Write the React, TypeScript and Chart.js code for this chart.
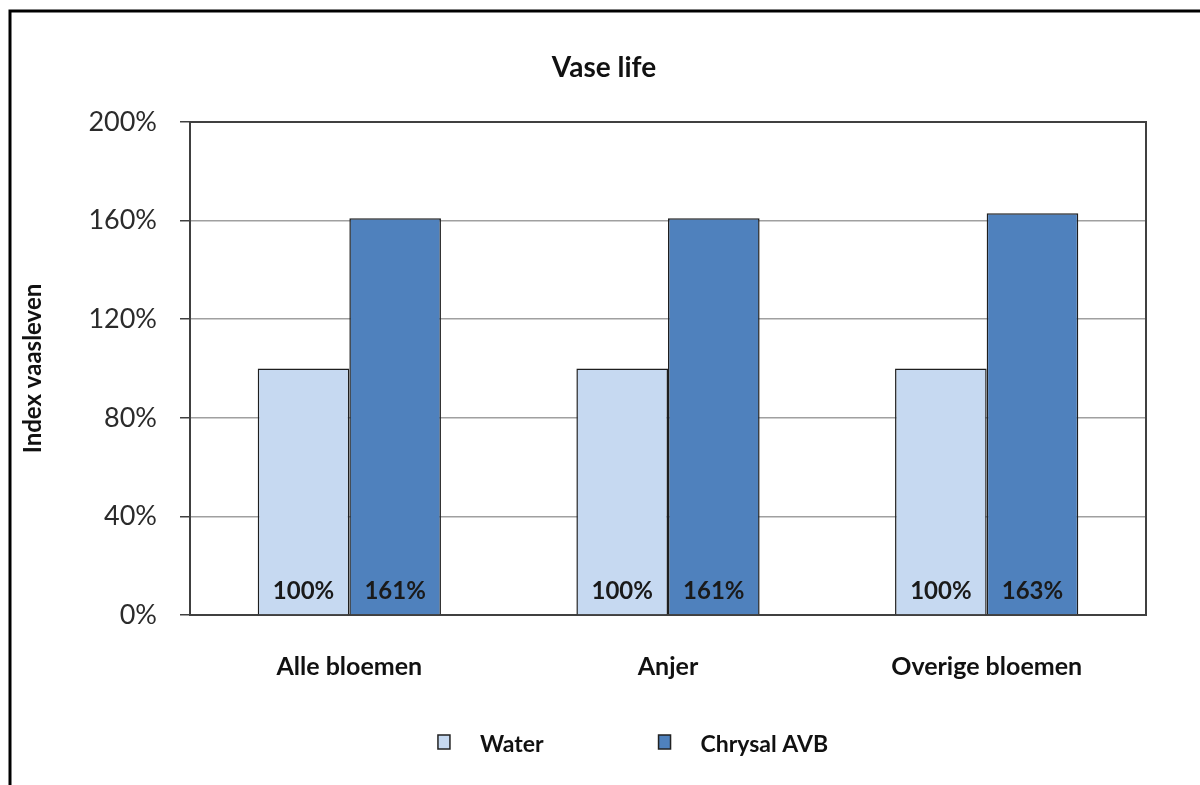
import React, { useEffect, useRef } from "react";
import { Chart, registerables } from "chart.js";

Chart.register(...registerables);

const categories = ["Alle bloemen", "Anjer", "Overige bloemen"];
const seriesNames = ["Water", "Chrysal AVB"];
const waterValues = [100, 100, 100];
const chrysalValues = [161, 161, 163];
const yTickMin = 0;
const yTickMax = 200;
const yTickStep = 40;
const chartTitle = "Vase life";
const yAxisTitle = "Index vaasleven";

const FONT = "Lato, Carlito, Calibri, 'Open Sans', sans-serif";
const WATER_COLOR = "#C6D9F1";
const CHRYSAL_COLOR = "#4F81BD";
const BAR_BORDER = "#1e1e1e";
const DARK = "#404040";
const TEXT = "#111111";

const framePlugin = {
  id: "frame",
  beforeDraw(chart: any) {
    const { ctx, width, height } = chart;
    ctx.save();
    ctx.fillStyle = "#ffffff";
    ctx.fillRect(0, 0, width, height);
    ctx.strokeStyle = "#000000";
    ctx.lineWidth = 3;
    ctx.beginPath();
    ctx.moveTo(10, height);
    ctx.lineTo(10, 11);
    ctx.lineTo(width, 11);
    ctx.stroke();
    ctx.restore();
  },
};

const titlePlugin = {
  id: "centeredTitle",
  afterDraw(chart: any) {
    const { ctx, width } = chart;
    ctx.save();
    ctx.font = `bold 28px ${FONT}`;
    ctx.fillStyle = TEXT;
    ctx.textAlign = "center";
    ctx.textBaseline = "middle";
    ctx.fillText(chartTitle, width / 2 + 4, 68);
    ctx.restore();
  },
};

const plotBoxPlugin = {
  id: "plotBox",
  beforeDatasetsDraw(chart: any) {
    const { ctx, chartArea } = chart;
    ctx.save();
    ctx.strokeStyle = DARK;
    ctx.lineWidth = 2;
    ctx.strokeRect(chartArea.left, chartArea.top, chartArea.right - chartArea.left, chartArea.bottom - chartArea.top);
    ctx.restore();
  },
};

const barLabelPlugin = {
  id: "barLabels",
  afterDatasetsDraw(chart: any) {
    const { ctx, chartArea } = chart;
    ctx.save();
    ctx.font = `bold 24px ${FONT}`;
    ctx.fillStyle = "#1a1a1a";
    ctx.textAlign = "center";
    ctx.textBaseline = "middle";
    chart.data.datasets.forEach((ds: any, di: number) => {
      const meta = chart.getDatasetMeta(di);
      meta.data.forEach((el: any, i: number) => {
        ctx.fillText(`${ds.data[i]}%`, el.x, chartArea.bottom - 24);
      });
    });
    ctx.restore();
  },
};

const legendPlugin = {
  id: "customLegend",
  afterDraw(chart: any) {
    const { ctx, width, height } = chart;
    const items = chart.data.datasets.map((ds: any) => ({ text: ds.label, color: ds.backgroundColor }));
    ctx.save();
    ctx.font = `bold 23px ${FONT}`;
    const box = 12;
    const gap = 30;
    const spacing = 115;
    const widths = items.map((it: any) => box + gap + ctx.measureText(it.text).width);
    const total = widths.reduce((a: number, b: number) => a + b, 0) + spacing * (items.length - 1);
    let x = width / 2 + 33 - total / 2;
    const cy = height - 43;
    items.forEach((it: any, i: number) => {
      ctx.fillStyle = it.color;
      ctx.fillRect(x, cy - 7, box, 14);
      ctx.strokeStyle = "#222";
      ctx.lineWidth = 1.5;
      ctx.strokeRect(x, cy - 7, box, 14);
      ctx.fillStyle = TEXT;
      ctx.textAlign = "left";
      ctx.textBaseline = "middle";
      ctx.fillText(it.text, x + box + gap, cy + 3);
      x += widths[i] + spacing;
    });
    ctx.restore();
  },
};

export default function App() {
  const canvasRef = useRef<HTMLCanvasElement | null>(null);

  useEffect(() => {
    if (!canvasRef.current) return;
    const chart = new Chart(canvasRef.current, {
      type: "bar",
      data: {
        labels: categories,
        datasets: [
          {
            label: seriesNames[0],
            data: waterValues,
            backgroundColor: WATER_COLOR,
            borderColor: BAR_BORDER,
            borderWidth: 1.5,
            categoryPercentage: 0.575,
            barPercentage: 1,
          },
          {
            label: seriesNames[1],
            data: chrysalValues,
            backgroundColor: CHRYSAL_COLOR,
            borderColor: BAR_BORDER,
            borderWidth: 1.5,
            categoryPercentage: 0.575,
            barPercentage: 1,
          },
        ],
      },
      options: {
        animation: false,
        responsive: true,
        maintainAspectRatio: false,
        layout: { padding: { top: 122, right: 54, bottom: 66, left: 0 } },
        plugins: {
          legend: { display: false },
          tooltip: { enabled: false },
          title: { display: false },
        },
        scales: {
          x: {
            grid: { display: false, drawTicks: false, tickLength: 0 },
            border: { display: false },
            ticks: {
              color: TEXT,
              padding: 37,
              font: { family: FONT, size: 25, weight: "bold" },
            },
          },
          y: {
            min: yTickMin,
            max: yTickMax,
            afterFit: (scale: any) => {
              scale.width = 190;
            },
            ticks: {
              stepSize: yTickStep,
              color: "#2b2b2b",
              padding: 23,
              font: { family: FONT, size: 27 },
              callback: (v: any) => `${v}%`,
            },
            grid: {
              color: (ctx: any) =>
                ctx.tick && (ctx.tick.value === yTickMin || ctx.tick.value === yTickMax) ? "rgba(0,0,0,0)" : "#a0a0a0",
              lineWidth: 1.5,
              tickColor: DARK,
              tickLength: 10,
              drawTicks: true,
            },
            border: { display: true, color: DARK, width: 2 },
            title: {
              display: true,
              text: yAxisTitle,
              color: TEXT,
              font: { family: FONT, size: 24, weight: "bold" },
              padding: { top: 19, bottom: 0 },
            },
          },
        },
      },
      plugins: [framePlugin, plotBoxPlugin, barLabelPlugin, legendPlugin, titlePlugin],
    });
    return () => chart.destroy();
  }, []);

  return (
    <div style={{ position: "absolute", left: 0, top: 0, width: 1200, height: 785 }}>
      <canvas ref={canvasRef} />
    </div>
  );
}
